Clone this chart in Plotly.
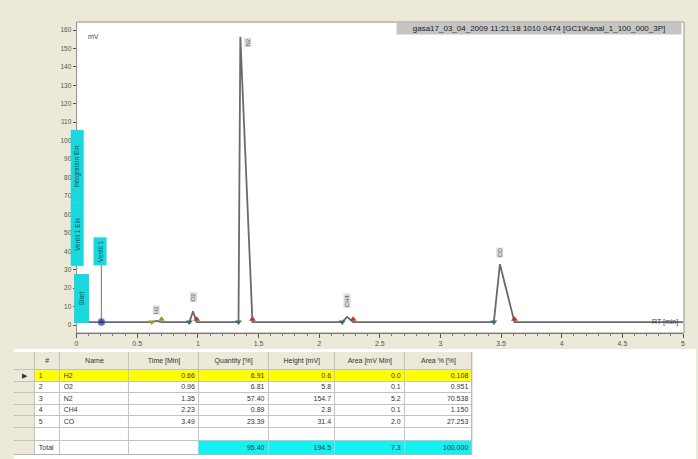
import plotly.graph_objects as go

# ---------------- data ----------------
peak_no = [1, 2, 3, 4, 5]
peak_name = ["H2", "O2", "N2", "CH4", "CO"]
peak_time = [0.66, 0.96, 1.35, 2.23, 3.49]          # retention time [min]
peak_quantity = [6.91, 6.81, 57.40, 0.89, 23.39]     # [%]
peak_height = [0.6, 5.8, 154.7, 2.8, 31.4]           # [mV]
peak_area = [0.0, 0.1, 5.2, 0.1, 2.0]                # [mV Min]
peak_area_pct = [0.108, 0.951, 70.538, 1.150, 27.253]
total_quantity = "95.40"
total_height = "194.5"
total_area = "7.3"
total_area_pct = "100.000"

peak_start = [0.62, 0.93, 1.335, 2.19, 3.44]         # integration start [min]
peak_end = [0.70, 0.99, 1.45, 2.28, 3.61]            # integration end [min]
baseline_mv = 1.6
run_end = 5.0

# timed events (time [min], label centre [mV], label length [px], box width [px])
event_text = ["Integration Ein", "Ventil 1 Ein", "Start", "Ventil 1"]
event_time = [0.006, 0.006, 0.041, 0.197]
event_level = [86.2, 49.3, 14.1, 39.9]
event_len = [72, 62, 48, 27]
event_wid = [12, 12, 14, 12]
valve_time = 0.205
valve_top = 32.5

y_ticks = list(range(0, 161, 10))
x_ticks = [0, 0.5, 1, 1.5, 2, 2.5, 3, 3.5, 4, 4.5, 5]
x_tick_text = ["0", "0.5", "1", "1.5", "2", "2.5", "3", "3.5", "4", "4.5", "5"]

file_label = "gasa17_03_04_2009 11:21:18 1010 0474 [GC1\\Kanal_1_100_000_3P]"

table_header = ["", "#", "Name", "Time [Min]", "Quantity [%]", "Height [mV]",
                "Area [mV Min]", "Area % [%]"]

# ---------------- figure ----------------
W, H = 698, 459
BEIGE = "#ece9d8"
FONT = "Liberation Sans"
TXT = "#333333"

def px_x(p):
    return p / W

def px_y(p):
    return 1 - p / H

# chromatogram polyline: baseline, then start/apex/end for each peak
rt = [0.0]
sig = [baseline_mv]
for s, t, e, h in zip(peak_start, peak_time, peak_end, peak_height):
    rt += [s, t, e]
    sig += [baseline_mv, baseline_mv + h, baseline_mv]
rt.append(run_end)
sig.append(baseline_mv)

fig = go.Figure()

fig.add_trace(go.Scatter(
    x=rt, y=sig, mode="lines",
    line=dict(color="#6a6a6a", width=1.8),
    hoverinfo="skip", showlegend=False,
))

# valve event stem and marker
fig.add_trace(go.Scatter(
    x=[valve_time, valve_time], y=[baseline_mv, valve_top], mode="lines",
    line=dict(color="#8a8a8a", width=1.2), showlegend=False, hoverinfo="skip",
))
fig.add_trace(go.Scatter(
    x=[valve_time], y=[baseline_mv], mode="markers",
    marker=dict(symbol="circle", size=[7], color="#1c2a8c",
                line=dict(color="#4a5acc", width=1)),
    showlegend=False, hoverinfo="skip",
))

# integration start / end markers
start_col = ["#9c9a1c"] + ["#3f6f60"] * 4
end_col = ["#9c9a1c"] + ["#b23a2a"] * 4
fig.add_trace(go.Scatter(
    x=peak_start, y=[baseline_mv] * len(peak_start), mode="markers",
    marker=dict(symbol="triangle-down", size=6, color=start_col),
    showlegend=False, hoverinfo="skip",
))
fig.add_trace(go.Scatter(
    x=peak_end, y=[baseline_mv + 1.5] * len(peak_end), mode="markers",
    marker=dict(symbol="triangle-up", size=6, color=end_col),
    showlegend=False, hoverinfo="skip",
))

annotations = []

# peak name tags above each apex
tag_dx = [0.0, 0.0, 0.06, 0.0, 0.0]
tag_dy = [3.0, 4.5, -6.0, 4.5, 3.5]
for name, t, h, dx, dy in zip(peak_name, peak_time, peak_height, tag_dx, tag_dy):
    annotations.append(dict(
        x=t + dx, y=baseline_mv + h + dy, xref="x", yref="y",
        text=name, showarrow=False, textangle=-90, yanchor="bottom",
        font=dict(family=FONT, size=6, color="#555"),
        bgcolor="#dcdcdc", borderpad=0,
    ))

# event tags (cyan)
for txt, t, lvl, ln, wd in zip(event_text, event_time, event_level, event_len, event_wid):
    annotations.append(dict(
        x=t, y=lvl, xref="x", yref="y", text=txt, showarrow=False,
        textangle=-90, width=ln, height=wd,
        font=dict(family=FONT, size=6.5, color="#1f4f5a"),
        bgcolor="#19d9df", borderpad=0,
    ))

# unit labels
annotations.append(dict(x=px_x(84), y=px_y(31), xref="paper", yref="paper",
                        text="mV", showarrow=False, xanchor="left",
                        font=dict(family=FONT, size=7, color="#444")))
annotations.append(dict(x=px_x(682), y=px_y(328), xref="paper", yref="paper",
                        text="RT [min]", showarrow=False, xanchor="right",
                        font=dict(family=FONT, size=7, color="#444")))

# run file name box
annotations.append(dict(x=px_x(684), y=px_y(22), xref="paper", yref="paper",
                        text=file_label, showarrow=False, xanchor="right",
                        yanchor="top", width=284, height=11, align="center",
                        font=dict(family=FONT, size=8, color="#222"),
                        bgcolor="#c4c4c4", borderpad=0))

# ---------------- results grid ----------------
# grid geometry in pixels (grid-local x, page y)
col_w = [21, 25, 70, 70, 70, 67, 70, 68]
col_edges = [0]
for w in col_w:
    col_edges.append(col_edges[-1] + w)
row_edges = [352, 370, 381.5, 393, 404.5, 416, 427.5, 441, 455]
GRID_LEFT = 12
PAD = 4

n = len(peak_no)
body = [
    ["\u25B6"] + [""] * (n - 1) + ["", ""],
    [str(v) for v in peak_no] + ["", "Total"],
    peak_name + ["", ""],
    [f"{v:.2f}" for v in peak_time] + ["", ""],
    [f"{v:.2f}" for v in peak_quantity] + ["", total_quantity],
    [f"{v:.1f}" for v in peak_height] + ["", total_height],
    [f"{v:.1f}" for v in peak_area] + ["", total_area],
    [f"{v:.3f}" for v in peak_area_pct] + ["", total_area_pct],
]
col_align = ["center", "left", "left", "right", "right", "right", "right", "right"]

# cell colour codes: 0 beige, 1 white, 2 yellow (selected row), 3 cyan (totals)
n_rows = n + 3
z = []
for r in range(n_rows):
    row = []
    for c in range(len(col_w)):
        if r == 0 or c == 0:
            row.append(0)
        elif r == 1:
            row.append(2)
        elif r == n_rows - 1 and c >= 4:
            row.append(3)
        else:
            row.append(1)
    z.append(row)

fig.add_trace(go.Heatmap(
    x=col_edges, y=row_edges, z=z, zmin=0, zmax=3,
    colorscale=[[0, BEIGE], [0.25, BEIGE], [0.25, "#ffffff"], [0.5, "#ffffff"],
                [0.5, "#ffff00"], [0.75, "#ffff00"], [0.75, "#12f2f2"], [1, "#12f2f2"]],
    showscale=False, xgap=1, ygap=1, hoverinfo="skip",
    xaxis="x2", yaxis="y2",
))

row_mid = [(a + b) / 2 for a, b in zip(row_edges[:-1], row_edges[1:])]

# header labels
fig.add_trace(go.Scatter(
    x=[(a + b) / 2 for a, b in zip(col_edges[:-1], col_edges[1:])],
    y=[row_mid[0]] * len(col_w), text=table_header, mode="text",
    textposition="middle center",
    textfont=dict(family=FONT, size=7, color=TXT),
    xaxis="x2", yaxis="y2", hoverinfo="skip", showlegend=False,
))

# body labels
for c, values in enumerate(body):
    a, b = col_edges[c], col_edges[c + 1]
    if col_align[c] == "left":
        xs, pos = a + PAD, "middle right"
    elif col_align[c] == "right":
        xs, pos = b - PAD, "middle left"
    else:
        xs, pos = (a + b) / 2, "middle center"
    fig.add_trace(go.Scatter(
        x=[xs] * len(values), y=row_mid[1:], text=values, mode="text",
        textposition=pos,
        textfont=dict(family=FONT, size=7, color=TXT),
        xaxis="x2", yaxis="y2", hoverinfo="skip", showlegend=False,
    ))

shapes = [
    # grid control background
    dict(type="rect", xref="paper", yref="paper", x0=px_x(GRID_LEFT), x1=1,
         y0=0, y1=px_y(349), fillcolor="#ffffff", line=dict(width=0), layer="below"),
    # grid lines show through the cell gaps
    dict(type="rect", xref="x2", yref="y2", x0=col_edges[0], x1=col_edges[-1],
         y0=row_edges[0], y1=row_edges[-1], fillcolor="#c2c2c2",
         line=dict(color="#a8a8a8", width=1), layer="below"),
    # chart frame
    dict(type="rect", xref="paper", yref="paper", x0=px_x(75), x1=px_x(686),
         y0=px_y(333), y1=px_y(22), line=dict(color="#9a9a9a", width=1)),
]

fig.update_layout(
    width=W, height=H,
    margin=dict(l=0, r=0, t=0, b=0),
    paper_bgcolor=BEIGE, plot_bgcolor="#ffffff",
    showlegend=False,
    annotations=annotations, shapes=shapes,
    xaxis=dict(domain=[px_x(75), px_x(685)], range=[0, run_end],
               tickvals=x_ticks, ticktext=x_tick_text,
               showgrid=False, zeroline=False, showline=True,
               linecolor="#555", linewidth=1, ticks="outside", ticklen=4,
               tickcolor="#555",
               minor=dict(dtick=0.1, ticks="outside", ticklen=2, tickcolor="#777"),
               tickfont=dict(family=FONT, size=7, color="#555")),
    yaxis=dict(domain=[px_y(333), px_y(23)], range=[-4.34, 163.8],
               tickvals=y_ticks, showgrid=False, zeroline=False,
               showline=True, linecolor="#333", linewidth=1,
               ticks="outside", ticklen=3, tickcolor="#555",
               tickfont=dict(family=FONT, size=6.5, color="#555")),
    xaxis2=dict(domain=[px_x(GRID_LEFT), px_x(GRID_LEFT + col_edges[-1])],
                range=[col_edges[0], col_edges[-1]], visible=False, fixedrange=True),
    yaxis2=dict(domain=[px_y(row_edges[-1]), px_y(row_edges[0])],
                range=[row_edges[-1], row_edges[0]], visible=False, fixedrange=True),
)

fig.write_html("out.html")
